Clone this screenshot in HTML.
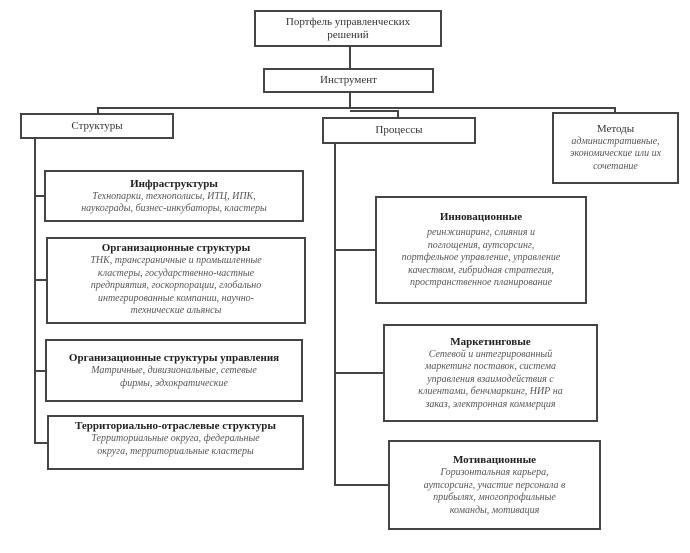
<!DOCTYPE html>
<html><head><meta charset="utf-8"><style>
body{margin:0;width:690px;height:553px;background:#fff;position:relative;overflow:hidden;font-family:"Liberation Serif","DejaVu Serif",serif;color:#333}
.b{position:absolute;border:2px solid #444;box-sizing:border-box;text-align:center;background:#fff;display:flex;flex-direction:column;justify-content:center;align-items:center}
.l{position:absolute;background:#444}
.t{font-weight:bold;font-size:11px;line-height:14px;color:#222}
.i{font-style:italic;font-size:10px;line-height:12.5px;color:#555}
.n{font-size:11px;line-height:13px;color:#333}
</style></head><body>
<div class="l" style="left:349px;top:47px;width:2px;height:21px"></div>
<div class="l" style="left:349px;top:93px;width:2px;height:16px"></div>
<div class="l" style="left:97px;top:107px;width:519px;height:2px"></div>
<div class="l" style="left:97px;top:107px;width:2px;height:7px"></div>
<div class="l" style="left:614px;top:107px;width:2px;height:6px"></div>
<div class="l" style="left:350px;top:110px;width:48px;height:2px"></div>
<div class="l" style="left:397px;top:110px;width:2px;height:8px"></div>
<div class="l" style="left:34px;top:139px;width:2px;height:305px"></div>
<div class="l" style="left:34px;top:195px;width:11px;height:2px"></div>
<div class="l" style="left:34px;top:279px;width:12px;height:2px"></div>
<div class="l" style="left:34px;top:370px;width:11px;height:2px"></div>
<div class="l" style="left:34px;top:442px;width:13px;height:2px"></div>
<div class="l" style="left:334px;top:144px;width:2px;height:342px"></div>
<div class="l" style="left:334px;top:249px;width:41px;height:2px"></div>
<div class="l" style="left:334px;top:372px;width:49px;height:2px"></div>
<div class="l" style="left:334px;top:484px;width:54px;height:2px"></div>

<div class="b n" style="left:254px;top:10px;width:188px;height:37px">Портфель управленческих<br>решений</div>
<div class="b n" style="left:263px;top:68px;width:171px;height:25px">Инструмент</div>
<div class="b n" style="left:20px;top:113px;width:154px;height:26px">Структуры</div>
<div class="b n" style="left:322px;top:117px;width:154px;height:27px">Процессы</div>
<div class="b" style="left:552px;top:112px;width:127px;height:72px"><div class="n">Методы</div><div class="i">административные, экономические или их сочетание</div></div>

<div class="b" style="left:44px;top:170px;width:260px;height:52px"><div class="t">Инфраструктуры</div><div class="i">Технопарки, технополисы, ИТЦ, ИПК,<br>наукограды, бизнес-инкубаторы, кластеры</div></div>
<div class="b" style="left:46px;top:237px;width:260px;height:87px;justify-content:flex-start;padding-top:2px"><div class="t">Организационные структуры</div><div class="i">ТНК, трансграничные и промышленные<br>кластеры, государственно-частные<br>предприятия, госкорпорации, глобально<br>интегрированные компании, научно-<br>технические альянсы</div></div>
<div class="b" style="left:45px;top:339px;width:258px;height:63px"><div class="t">Организационные структуры управления</div><div class="i">Матричные, дивизиональные, сетевые<br>фирмы, эдхократические</div></div>
<div class="b" style="left:47px;top:415px;width:257px;height:55px;justify-content:flex-start;padding-top:2px"><div class="t">Территориально-отраслевые структуры</div><div class="i">Территориальные округа, федеральные<br>округа, территориальные кластеры</div></div>

<div class="b" style="left:375px;top:196px;width:212px;height:108px"><div class="t">Инновационные</div><div class="i" style="margin-top:3px">реинжиниринг, слияния и<br>поглощения, аутсорсинг,<br>портфельное управление, управление<br>качеством, гибридная стратегия,<br>пространственное планирование</div></div>
<div class="b" style="left:383px;top:324px;width:215px;height:98px"><div class="t">Маркетинговые</div><div class="i">Сетевой и интегрированный<br>маркетинг поставок, система<br>управления взаимодействия с<br>клиентами, бенчмаркинг, НИР на<br>заказ, электронная коммерция</div></div>
<div class="b" style="left:388px;top:440px;width:213px;height:90px"><div class="t">Мотивационные</div><div class="i">Горизонтальная карьера,<br>аутсорсинг, участие персонала в<br>прибылях, многопрофильные<br>команды, мотивация</div></div>
</body></html>
